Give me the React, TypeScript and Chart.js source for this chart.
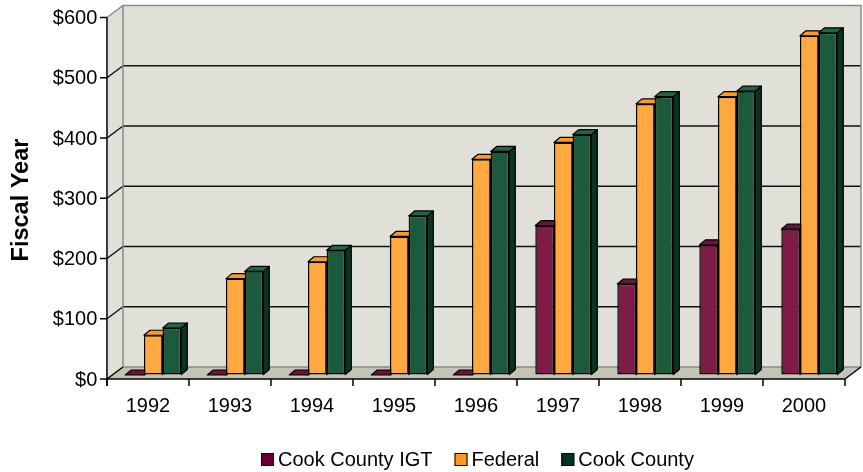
import React, { useEffect, useRef } from 'react';
import { Chart, registerables } from 'chart.js';

Chart.register(...registerables);

const categories = ['1992', '1993', '1994', '1995', '1996', '1997', '1998', '1999', '2000'];
const seriesNames = ['Cook County IGT', 'Federal', 'Cook County'];
const igtValues = [0, 0, 0, 0, 0, 248, 151, 216, 242];
const federalValues = [66, 160, 188, 230, 358, 386, 450, 462, 563];
const cookCountyValues = [78, 172, 207, 264, 371, 399, 462, 471, 568];
const yMin = 0;
const yMax = 600;
const yStep = 100;
const yTitle = 'Fiscal Year';

const frontColors = ['#7E1B47', '#FFA940', '#1B5A3D'];
const topColors = ['#6A1438', '#FF9A1C', '#216446'];
const sideColors = ['#4A0C26', '#D9801A', '#0C3322'];
const legendColors = ['#660033', '#FF9922', '#003322'];

const FONT = "'Liberation Sans', Arial, sans-serif";
const FRONT = { dx: -5.33, dy: 4 };
const BACK = { dx: 10.67, dy: -8 };
const BAR = { dx: 6, dy: -5 };
const WALL = '#E0E0D8';
const FLOOR = '#C4C4B6';
const BORDER_GRAY = '#8A8A8A';

function poly(ctx: CanvasRenderingContext2D, pts: number[][], fill?: string, stroke?: string, lw = 1) {
  ctx.beginPath();
  ctx.moveTo(pts[0][0], pts[0][1]);
  for (let i = 1; i < pts.length; i++) ctx.lineTo(pts[i][0], pts[i][1]);
  ctx.closePath();
  if (fill) { ctx.fillStyle = fill; ctx.fill(); }
  if (stroke) { ctx.strokeStyle = stroke; ctx.lineWidth = lw; ctx.stroke(); }
}
function line(ctx: CanvasRenderingContext2D, x1: number, y1: number, x2: number, y2: number, color: string, lw: number) {
  ctx.beginPath();
  ctx.moveTo(x1, y1);
  ctx.lineTo(x2, y2);
  ctx.strokeStyle = color;
  ctx.lineWidth = lw;
  ctx.stroke();
}

const frame3d = {
  id: 'frame3d',
  beforeDatasetsDraw(chart: any) {
    const { ctx, chartArea: a, scales } = chart;
    const xs = scales.x, ys = scales.y;
    const y0 = ys.getPixelForValue(yMin);
    const yT = ys.getPixelForValue(yMax);
    const fl = a.left + FRONT.dx, fr = a.right + FRONT.dx;
    const bl = a.left + BACK.dx, br = a.right + BACK.dx;
    ctx.save();
    // left wall
    poly(ctx, [[fl, y0 + FRONT.dy], [fl, yT + FRONT.dy], [bl, yT + BACK.dy], [bl, y0 + BACK.dy]], WALL);
    // back wall
    poly(ctx, [[bl, yT + BACK.dy], [br, yT + BACK.dy], [br, y0 + BACK.dy], [bl, y0 + BACK.dy]], WALL);
    // floor
    poly(ctx, [[fl, y0 + FRONT.dy], [fr, y0 + FRONT.dy], [br, y0 + BACK.dy], [bl, y0 + BACK.dy]], FLOOR);
    // gridlines
    for (let v = yMin + yStep; v < yMax; v += yStep) {
      const py = ys.getPixelForValue(v);
      line(ctx, bl, py + BACK.dy, br, py + BACK.dy, '#111', 1.5);
      line(ctx, fl, py + FRONT.dy, bl, py + BACK.dy, '#111', 1.5);
    }
    // wall borders
    ctx.lineJoin = 'miter';
    ctx.beginPath();
    ctx.moveTo(fl, yT + FRONT.dy);
    ctx.lineTo(bl, yT + BACK.dy);
    ctx.lineTo(br, yT + BACK.dy);
    ctx.lineTo(br, y0 + BACK.dy);
    ctx.strokeStyle = BORDER_GRAY;
    ctx.lineWidth = 1.5;
    ctx.stroke();
    line(ctx, bl, yT + BACK.dy, bl, y0 + BACK.dy, BORDER_GRAY, 1.5);
    line(ctx, bl, y0 + BACK.dy, br, y0 + BACK.dy, BORDER_GRAY, 1.5);
    // axes (black)
    line(ctx, fl, y0 + FRONT.dy, bl, y0 + BACK.dy, '#000', 1.5);
    line(ctx, fr, y0 + FRONT.dy, br, y0 + BACK.dy, '#000', 1.5);
    line(ctx, fl, y0 + FRONT.dy, fr, y0 + FRONT.dy, '#000', 1.5);
    line(ctx, fl, yT + FRONT.dy, fl, y0 + FRONT.dy + 7, '#000', 1.5);
    for (let v = yMin; v <= yMax; v += yStep) {
      const py = ys.getPixelForValue(v) + FRONT.dy;
      line(ctx, fl - 7, py, fl, py, '#000', 1.5);
    }
    const step = xs.getPixelForValue(1) - xs.getPixelForValue(0);
    for (let i = 0; i <= categories.length; i++) {
      const px = xs.getPixelForValue(0) - step / 2 + i * step + FRONT.dx;
      line(ctx, px, y0 + FRONT.dy, px, y0 + FRONT.dy + 7, '#000', 1.5);
    }
    // bar tops and sides
    ctx.lineJoin = 'round';
    for (let i = 0; i < categories.length; i++) {
      for (let d = 0; d < chart.data.datasets.length; d++) {
        const el = chart.getDatasetMeta(d).data[i];
        if (!el) continue;
        const p = el.getProps(['x', 'y', 'base', 'width'], true);
        const l = p.x - p.width / 2, r = p.x + p.width / 2;
        const top = Math.min(p.y, p.base), base = Math.max(p.y, p.base);
        poly(ctx, [[r, top], [r + BAR.dx, top + BAR.dy], [r + BAR.dx, base + BAR.dy], [r, base]], sideColors[d], '#000', 1.2);
        poly(ctx, [[l, top], [r, top], [r + BAR.dx, top + BAR.dy], [l + BAR.dx, top + BAR.dy]], topColors[d], '#000', 1.2);
      }
    }
    ctx.restore();
  },
  afterDraw(chart: any) {
    const { ctx } = chart;
    ctx.save();
    // y axis title
    ctx.translate(22, 200);
    ctx.rotate(-Math.PI / 2);
    ctx.font = `bold 23.5px ${FONT}`;
    ctx.fillStyle = '#000';
    ctx.textAlign = 'center';
    ctx.textBaseline = 'middle';
    ctx.fillText(yTitle, 0, 0);
    ctx.restore();
    // legend
    ctx.save();
    ctx.font = `20px ${FONT}`;
    ctx.textBaseline = 'middle';
    ctx.textAlign = 'left';
    let x = 261;
    const boxTop = 453, box = 13;
    seriesNames.forEach((name, d) => {
      ctx.fillStyle = legendColors[d];
      ctx.fillRect(x, boxTop, box, box);
      ctx.strokeStyle = '#000';
      ctx.lineWidth = 1;
      ctx.strokeRect(x + 0.5, boxTop + 0.5, box - 1, box - 1);
      ctx.fillStyle = '#000';
      const tx = x + box + 4;
      ctx.fillText(name, tx, boxTop + box / 2 + 0.5);
      x = tx + ctx.measureText(name).width + 22;
    });
    ctx.restore();
  },
};

export default function App() {
  const ref = useRef<HTMLCanvasElement>(null);
  useEffect(() => {
    if (!ref.current) return;
    const values = [igtValues, federalValues, cookCountyValues];
    const chart = new Chart(ref.current, {
      type: 'bar',
      data: {
        labels: categories,
        datasets: seriesNames.map((name, d) => ({
          label: name,
          data: values[d],
          backgroundColor: frontColors[d],
          borderColor: '#000',
          borderWidth: 1.5,
          borderSkipped: false,
          categoryPercentage: 0.683,
          barPercentage: 1,
        })),
      },
      options: {
        responsive: false,
        animation: false,
        events: [],
        layout: { padding: { left: 0, right: 12.7, top: 13.5, bottom: 0 } },
        plugins: { legend: { display: false }, title: { display: false }, tooltip: { enabled: false } },
        scales: {
          x: {
            type: 'category',
            offset: true,
            grid: { display: false },
            border: { display: false },
            ticks: {
              color: '#000',
              font: { family: FONT, size: 20 },
              labelOffset: -5.33,
              padding: 11,
              maxRotation: 0,
              autoSkip: false,
            },
            afterFit: (s: any) => { s.height = 97; },
          },
          y: {
            min: yMin,
            max: yMax,
            grid: { display: true, drawOnChartArea: false, drawTicks: true, tickLength: 14, color: 'rgba(0,0,0,0)' },
            border: { display: false },
            ticks: {
              stepSize: yStep,
              color: '#000',
              font: { family: FONT, size: 20 },
              labelOffset: 5,
              padding: 1,
              callback: (v: any) => '$' + v,
            },
            afterFit: (s: any) => { s.width = 112.3; },
          },
        },
      },
      plugins: [frame3d],
    });
    return () => chart.destroy();
  }, []);
  return (
    <div style={{ position: 'absolute', left: 0, top: 0, width: 863, height: 472, background: '#fff' }}>
      <canvas ref={ref} width={863} height={472} style={{ display: 'block' }} />
    </div>
  );
}
